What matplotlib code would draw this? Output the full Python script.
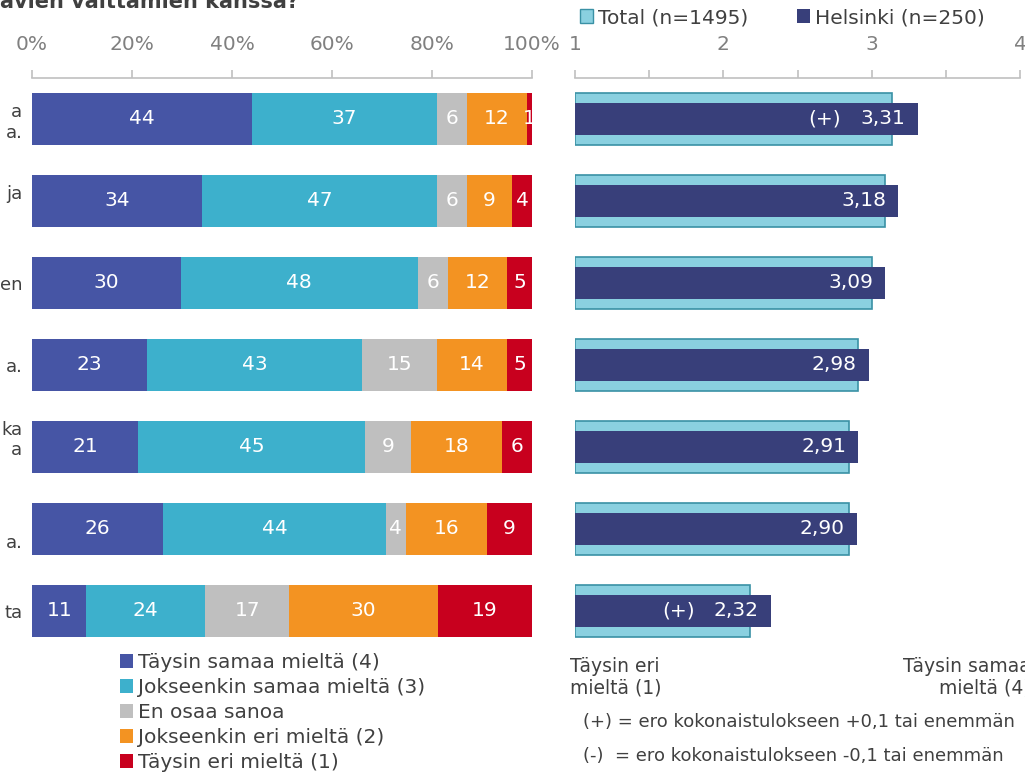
import matplotlib.pyplot as plt
import numpy as np
from matplotlib.patches import Patch

# data
rows = ["a\na.", "ja\n ", "en", "a.", "ka\na\n ", " \na.", "ta"]
series = ["Täysin samaa mieltä (4)", "Jokseenkin samaa mieltä (3)", "En osaa sanoa",
          "Jokseenkin eri mieltä (2)", "Täysin eri mieltä (1)"]
taysin_samaa = [44, 34, 30, 23, 21, 26, 11]
jokseenkin_samaa = [37, 47, 48, 43, 45, 44, 24]
en_osaa = [6, 6, 6, 15, 9, 4, 17]
jokseenkin_eri = [12, 9, 12, 14, 18, 16, 30]
taysin_eri = [1, 4, 5, 5, 6, 9, 19]

total_mean = [3.14, 3.09, 3.00, 2.91, 2.85, 2.85, 2.18]
helsinki_mean = [3.31, 3.18, 3.09, 2.98, 2.91, 2.90, 2.32]
helsinki_diff = ["(+)", "", "", "", "", "", "(+)"]

colors = ["#4655a5", "#3db0cc", "#bfbfbf", "#f39322", "#c8001e"]
dark = "#404040"
gray = "#808080"
spine_col = "#c0c0c0"
fs = 14.5

plt.rcParams['font.family'] = ['DejaVu Sans']
fig = plt.figure(figsize=(10.25, 7.73), dpi=100)
W, H = 1025, 773
top_px, bot_px = 78, 652
ax1 = fig.add_axes([32 / W, 1 - bot_px / H, 500 / W, (bot_px - top_px) / H])
ax2 = fig.add_axes([575 / W, 1 - bot_px / H, 445 / W, (bot_px - top_px) / H])

y = np.arange(len(rows))
vals = np.array([taysin_samaa, jokseenkin_samaa, en_osaa, jokseenkin_eri, taysin_eri], dtype=float)
widths = vals / vals.sum(axis=0) * 100
left = np.zeros(len(rows))
for k in range(len(series)):
    ax1.barh(y, widths[k], left=left, height=0.634, color=colors[k], label=series[k])
    for i in range(len(rows)):
        ax1.text(left[i] + widths[k][i] / 2, y[i], str(int(vals[k][i])), ha='center', va='center',
                 color='white', fontsize=fs)
    left += widths[k]

for ax in (ax1, ax2):
    ax.set_ylim(len(rows) - 0.5, -0.5)
    ax.xaxis.tick_top()
    for s in ["right", "bottom", "left"]:
        ax.spines[s].set_visible(False)
    ax.spines["top"].set_color(spine_col)
    ax.spines["top"].set_linewidth(1.2)
    ax.tick_params(axis='x', colors=spine_col, labelcolor=gray, labelsize=fs, length=6, width=1.2, pad=11)

ax1.set_xlim(0, 100)
ax1.set_xticks([0, 20, 40, 60, 80, 100])
ax1.set_xticklabels(["0%", "20%", "40%", "60%", "80%", "100%"])
ax1.set_yticks(y)
ax1.set_yticklabels(rows, fontsize=13, color=dark, linespacing=1.2)
ax1.tick_params(axis='y', length=0, pad=7)

# mean scores
ax2.barh(y, np.array(total_mean) - 1, left=1, height=0.634, color="#8ad0e0", edgecolor="#3a91a5", linewidth=1.2)
ax2.barh(y, np.array(helsinki_mean) - 1, left=1, height=0.40, color="#383f7a")
for i in range(len(rows)):
    ax2.annotate(f"{helsinki_mean[i]:.2f}".replace(".", ","), (helsinki_mean[i], y[i]), xytext=(-8.6, 0),
                 textcoords='offset points', ha='right', va='center', color='white', fontsize=fs)
    if helsinki_diff[i]:
        ax2.annotate(helsinki_diff[i], (helsinki_mean[i], y[i]), xytext=(-55, 0),
                     textcoords='offset points', ha='right', va='center', color='white', fontsize=fs)
ax2.set_xlim(1, 4)
ax2.set_xticks([1, 1.5, 2, 2.5, 3, 3.5, 4])
ax2.set_xticklabels(["1", "", "2", "", "3", "", "4"])
ax2.set_yticks([])

# title fragment
fig.text(0, 1 - 2 / H, "avien väittämien kanssa?", fontsize=15, fontweight='bold', color=dark,
         ha='left', va='center')

# legends
h1 = [Patch(facecolor=c) for c in colors]
fig.legend(h1, series, loc='upper left', bbox_to_anchor=(120 / W, 1 - 653 / H), frameon=False,
           fontsize=fs, handlelength=0.65, handleheight=0.65, handletextpad=0.25, labelspacing=0.3,
           borderaxespad=0, borderpad=0, labelcolor=dark)
h2 = [Patch(facecolor="#8ad0e0", edgecolor="#3a91a5"), Patch(facecolor="#383f7a")]
fig.legend(h2, ["Total (n=1495)", "Helsinki (n=250)"], loc='upper left', bbox_to_anchor=(580 / W, 1 - 8 / H),
           ncol=2, frameon=False, fontsize=fs, handlelength=0.65, handleheight=0.65, handletextpad=0.25,
           columnspacing=2.4, borderaxespad=0, borderpad=0, labelcolor=dark)

# scale ends and footnotes
fig.text(570 / W, 1 - 677 / H, "Täysin eri\nmieltä (1)", fontsize=13.5, color=dark, ha='left', va='center')
fig.text(1031 / W, 1 - 677 / H, "Täysin samaa\nmieltä (4)", fontsize=13.5, color=dark, ha='right', va='center',
         multialignment='right')
fig.text(583 / W, 1 - 722 / H, "(+) = ero kokonaistulokseen +0,1 tai enemmän", fontsize=13, color=dark,
         ha='left', va='center')
fig.text(583 / W, 1 - 756 / H, "(-)  = ero kokonaistulokseen -0,1 tai enemmän", fontsize=13, color=dark,
         ha='left', va='center')

fig.savefig("out.png", dpi=100)
